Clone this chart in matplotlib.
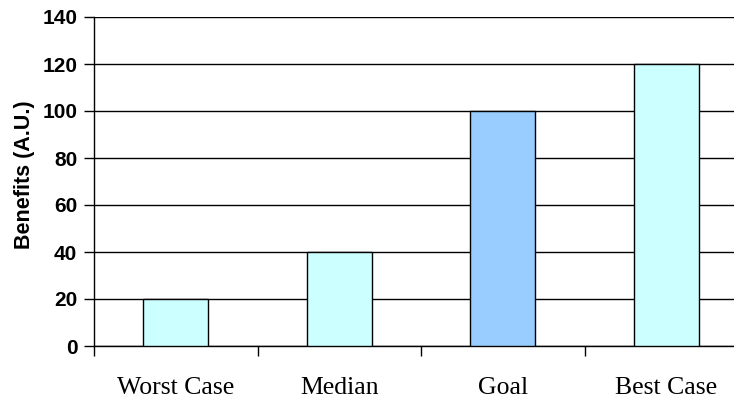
import matplotlib
matplotlib.use("Agg")
import matplotlib.pyplot as plt
import numpy as np

categories = ["Worst Case", "Median", "Goal", "Best Case"]
benefits = [20, 40, 100, 120]
bar_colors = ["#CCFFFF", "#CCFFFF", "#99CCFF", "#CCFFFF"]
y_ticks = [0, 20, 40, 60, 80, 100, 120, 140]

fig = plt.figure(figsize=(7.34, 3.99), dpi=100)
ax = fig.add_axes([94 / 734, 53 / 399, 654 / 734, 329 / 399])

x = np.arange(len(categories))
ax.set_axisbelow(True)
ax.yaxis.grid(True, color="black", linewidth=1.0)
ax.bar(x, benefits, width=0.4, color=bar_colors, edgecolor="black", linewidth=1.0, zorder=3)

ax.set_xlim(-0.5, len(categories) - 0.5)
ax.set_ylim(0, 140)
ax.set_yticks(y_ticks)
ax.set_yticklabels([str(v) for v in y_ticks], fontfamily="Liberation Sans",
                   fontweight="bold", fontsize=15)

ax.set_xticks(x)
ax.set_xticklabels(categories, fontfamily="Liberation Serif", fontsize=18.5)
ax.set_xticks(np.arange(len(categories) + 1) - 0.5, minor=True)
ax.tick_params(axis="x", which="major", length=0, pad=22)
ax.tick_params(axis="x", which="minor", length=7, width=1, direction="out")
ax.tick_params(axis="y", length=7, width=1, pad=5)

for side in ["top", "right"]:
    ax.spines[side].set_visible(False)
ax.spines["left"].set_linewidth(1.0)
ax.spines["bottom"].set_linewidth(1.0)

ax.set_ylabel("Benefits (A.U.)", fontfamily="Liberation Sans", fontweight="bold",
              fontsize=15.5, labelpad=5)
ax.yaxis.label.set_y(0.52)

fig.savefig("out.png", dpi=100)
